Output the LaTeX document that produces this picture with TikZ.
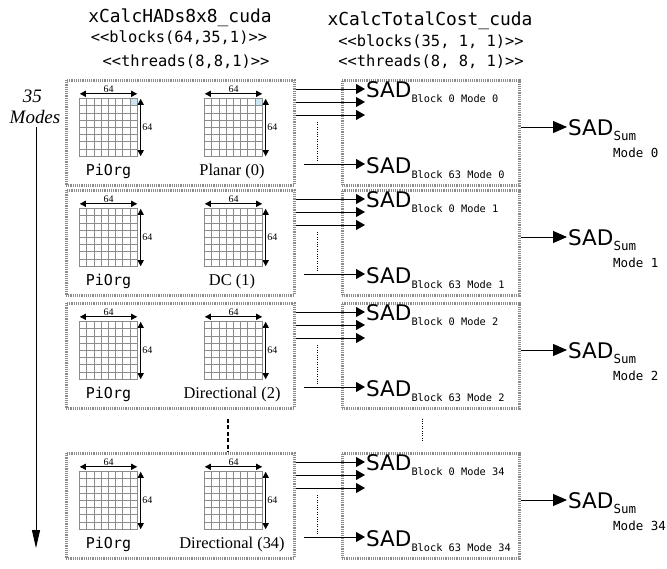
\documentclass[tikz,border=0pt]{standalone}
\usepackage{fontspec}
\setmainfont{Liberation Serif}
\setmonofont{DejaVu Sans Mono}
\newfontfamily\sadfont{DejaVu Sans}
\usepackage{tikz}
\usetikzlibrary{
    arrows.meta,
    positioning,
    calc
}
\definecolor{cellblue}{RGB}{205,228,242}
\newcommand{\sadblock}[1]{{\sadfont\fontsize{21.5}{22}\selectfont SAD}\raisebox{-5pt}{\ttfamily\fontsize{10.3}{11}\selectfont #1}}
\newcommand{\sadsum}{{\sadfont\fontsize{21.5}{22}\selectfont SAD}\raisebox{-5pt}{\ttfamily\fontsize{12.5}{13}\selectfont Sum}}
\tikzstyle{modebox} = [
    rectangle,
    draw=black!45,
    line width=3pt,
    dash pattern=on 1.2pt off 1pt,
    inner sep=0pt
]
\tikzstyle{blockgrid} = [
    rectangle,
    minimum width=57pt,
    minimum height=57pt,
    inner sep=0pt
]
\tikzstyle{gridline} = [
    draw=black!45,
    line width=1pt,
    line cap=rect
]
\tikzstyle{dimarrow} = [
    {Triangle[length=6pt,width=6pt]}-{Triangle[length=6pt,width=6pt]},
    line width=1.1pt
]
\tikzstyle{dimlabel} = [
    inner sep=1pt,
    font=\fontsize{10}{11}\selectfont
]
\tikzstyle{conn} = [
    -{Triangle[length=9pt,width=10pt]},
    line width=1pt
]
\tikzstyle{sumarrow} = [
    -{Triangle[length=14pt,width=12pt]},
    line width=1pt
]
\tikzstyle{modearrow} = [
    -{Triangle[length=18pt,width=8pt]},
    line width=1pt
]
\tikzstyle{kernel} = [
    anchor=base,
    inner sep=0pt,
    font=\ttfamily\fontsize{17.9}{20}\selectfont
]
\tikzstyle{launch} = [
    anchor=base,
    inner sep=0pt,
    font=\ttfamily\fontsize{15.4}{17}\selectfont
]
\tikzstyle{modes} = [
    anchor=base,
    font=\itshape\fontsize{19}{21}\selectfont
]
\tikzstyle{orglabel} = [
    anchor=base,
    inner sep=0pt,
    font=\ttfamily\fontsize{15}{17}\selectfont
]
\tikzstyle{predlabel} = [
    anchor=base,
    inner sep=0pt,
    font=\fontsize{16.4}{18}\selectfont
]
\tikzstyle{sadnode} = [
    anchor=base west,
    inner sep=1pt
]
\tikzstyle{modetext} = [
    anchor=base west,
    inner sep=0pt,
    font=\ttfamily\fontsize{12.5}{14}\selectfont
]
\tikzstyle{gapdash} = [
    line width=2.2pt,
    dash pattern=on 4pt off 2.5pt
]
\tikzstyle{gapdot} = [
    line width=0.9pt,
    dash pattern=on 1pt off 1.4pt
]

\begin{document}
\begin{tikzpicture}[x=1pt, y=-1pt]
    \useasboundingbox (0,0) rectangle (667,568);

    % Kernel titles
    \node[kernel] (hadtitle) at (180,22) {xCalcHADs8x8\_cuda};
    \node[launch] (hadblocks) at (179,42) {<<blocks(64,35,1)>>};
    \node[launch] (hadthreads) at (186,66) {<<threads(8,8,1)>>};
    \node[kernel] (costtitle) at (430,25) {xCalcTotalCost\_cuda};
    \node[launch] (costblocks) at (431,46) {<<blocks(35, 1, 1)>>};
    \node[launch] (costthreads) at (431,66) {<<threads(8, 8, 1)>>};

    % Mode axis
    \node[modes] (modesnum) at (32.5,102) {35};
    \node[modes] (modes) at (35,123) {Modes};
    \coordinate (modesend) at (36,548);
    \draw[modearrow] (modes.south -| modesend) -- (modesend);

    % One row per mode
    \foreach \r/\t/\mname/\mnum in {1/80/{Planar (0)}/0, 2/190/{DC (1)}/1, 3/303/{Directional (2)}/2, 4/453/{Directional (34)}/34}{
        % Boxes
        \node[modebox, minimum width=228pt, minimum height=105pt] (lbox\r) at (180,\t+52.5) {};
        \node[modebox, minimum width=177pt, minimum height=105pt] (rbox\r) at (430.5,\t+52.5) {};

        % Blocks
        \node[blockgrid] (org\r) at (108.5,\t+47.5) {};
        \node[blockgrid] (pred\r) at (233.5,\t+47.5) {};
        \ifnum\r=1
            \fill[cellblue] ($(org\r.north east)+(-7.125,0)$) rectangle ($(org\r.north east)+(0,7.125)$);
            \fill[cellblue] ($(pred\r.north east)+(-7.125,0)$) rectangle ($(pred\r.north east)+(0,7.125)$);
        \fi
        \foreach \g in {org\r,pred\r}{
            \foreach \k in {0,...,8}{
                \draw[gridline] ($(\g.north west)!\k/8!(\g.north east)$) -- ($(\g.south west)!\k/8!(\g.south east)$);
                \draw[gridline] ($(\g.north west)!\k/8!(\g.south west)$) -- ($(\g.north east)!\k/8!(\g.south east)$);
            }
            \draw[dimarrow] ([yshift=5pt]\g.north west) -- node[dimlabel, above] (hdim\g) {64} ([yshift=5pt]\g.north east);
            \draw[dimarrow] ([xshift=3.5pt]\g.north east) -- node[dimlabel, right] (vdim\g) {64} ([xshift=3.5pt]\g.south east);
        }
        \node[orglabel] (orglabel\r) at (108.5,\t+95) {PiOrg};
        \node[predlabel] (predlabel\r) at (232,\t+95) {\mname};

        % Block sums
        \node[sadnode] (sada\r) at (365,\t+17) {\sadblock{Block 0 Mode \mnum}};
        \node[sadnode] (sadb\r) at (365,\t+93) {\sadblock{Block 63 Mode \mnum}};
        \coordinate (tipa\r) at ([yshift=8pt]sada\r.base west);
        \coordinate (tipb\r) at ([yshift=-5pt]sada\r.base west);
        \coordinate (tipc\r) at ([yshift=-18pt]sada\r.base west);
        \coordinate (tipd\r) at ([yshift=9pt]sadb\r.base west);
        \draw[conn] (lbox\r.east |- tipa\r) -- (tipa\r);
        \draw[conn] (lbox\r.east |- tipb\r) -- (tipb\r);
        \draw[conn] (lbox\r.east |- tipc\r) -- (tipc\r);
        \draw[conn] ($(lbox\r.east |- tipd\r)+(8,0)$) -- (tipd\r);
        \draw[gapdot] (317,\t+42) -- (317,\t+82);

        % Total
        \node[sadnode] (sum\r) at (567,\t+55) {\sadsum};
        \node[modetext] (summode\r) at (613,\t+77) {Mode \mnum};
        \coordinate (sumtip\r) at ([yshift=8pt]sum\r.base west);
        \draw[sumarrow] (rbox\r.east |- sumtip\r) -- (sumtip\r);
    }

    % Skipped modes
    \draw[gapdash] ($(lbox3.south)+(48,9)$) -- ($(lbox4.north)+(48,0)$);
    \draw[gapdot] ($(rbox3.south)+(-8.5,9)$) -- ($(rbox4.north)+(-8.5,-11)$);
\end{tikzpicture}
\end{document}
